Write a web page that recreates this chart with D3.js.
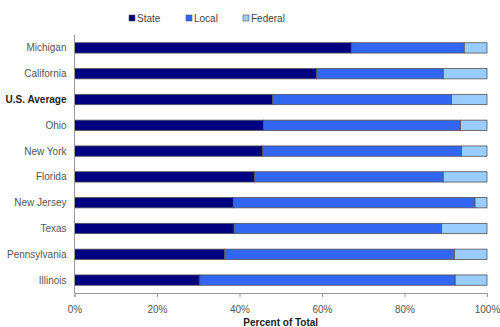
<!DOCTYPE html>
<html>
<head>
<meta charset="utf-8">
<script src="https://cdn.jsdelivr.net/npm/d3@7"></script>
<style>
  body { margin: 0; background: #fff; }
  svg { display: block; font-family: "Liberation Sans", Arial, sans-serif; }
</style>
</head>
<body>
<svg id="chart" width="500" height="327"></svg>
<script>
// categories, top to bottom
const regions = ['Michigan', 'California', 'U.S. Average', 'Ohio', 'New York',
  'Florida', 'New Jersey', 'Texas', 'Pennsylvania', 'Illinois']

// percent of total revenue by source
const stateShare = [67.2, 58.7, 48.0, 45.8, 45.6, 43.6, 38.5, 38.7, 36.4, 30.4]
const localShare = [27.3, 30.7, 43.4, 47.8, 48.2, 45.8, 58.6, 50.3, 55.7, 61.9]
const federalShare = [5.5, 10.6, 8.6, 6.4, 6.2, 10.6, 2.9, 11.0, 7.9, 7.7]

const sources = ['State', 'Local', 'Federal']
const colors = ['#000080', '#3366f0', '#99ccff']
const xTicks = [0, 20, 40, 60, 80, 100]

const svg = d3.select('#chart')
const margin = { top: 35, right: 13, bottom: 34, left: 74.5 }
const width = 500 - margin.left - margin.right
const height = 327 - margin.top - margin.bottom

const g = svg.append('g').attr('transform', `translate(${margin.left},${margin.top})`)

const x = d3.scaleLinear().domain([0, 100]).range([0, width])
const y = d3.scaleBand().domain(regions).range([0, height]).paddingInner(0.6).paddingOuter(0.3)

// stack the three sources
const rows = regions.map((r, i) => ({ region: r, State: stateShare[i], Local: localShare[i], Federal: federalShare[i] }))
const stacked = d3.stack().keys(sources)(rows)

g.selectAll('.series')
  .data(stacked)
  .join('g')
  .attr('class', 'series')
  .attr('fill', (d, i) => colors[i])
  .selectAll('rect')
  .data(d => d)
  .join('rect')
  .attr('x', d => x(d[0]))
  .attr('y', d => y(d.data.region))
  .attr('width', d => x(d[1]) - x(d[0]))
  .attr('height', y.bandwidth())
  .attr('stroke', '#555')
  .attr('stroke-width', 0.8)

// y axis line + labels
g.append('line')
  .attr('x1', 0).attr('x2', 0)
  .attr('y1', 0).attr('y2', height)
  .attr('stroke', '#999')

g.selectAll('.ylab')
  .data(regions)
  .join('text')
  .attr('class', 'ylab')
  .attr('x', -8)
  .attr('y', d => y(d) + y.bandwidth() / 2)
  .attr('dy', '0.35em')
  .attr('text-anchor', 'end')
  .attr('font-size', 10)
  .attr('font-weight', d => d === 'U.S. Average' ? 'bold' : 'normal')
  .attr('fill', d => d === 'U.S. Average' ? '#222' : '#555')
  .text(d => d)

// x axis
const xAxis = g.append('g')
  .attr('transform', `translate(0,${height})`)
  .call(d3.axisBottom(x).tickValues(xTicks).tickFormat(d => d + '%').tickSize(4).tickPadding(9))
xAxis.select('.domain').attr('stroke', '#999')
xAxis.selectAll('.tick line').attr('stroke', '#999')
xAxis.selectAll('.tick text')
  .attr('font-size', 10)
  .attr('fill', '#555')
  .attr('font-family', '"Liberation Sans", Arial, sans-serif')

g.append('text')
  .attr('x', width / 2)
  .attr('y', height + 33)
  .attr('text-anchor', 'middle')
  .attr('font-size', 10)
  .attr('font-weight', 'bold')
  .attr('fill', '#222')
  .text('Percent of Total')

// legend
const legendX = [129, 186, 243]
const legend = svg.append('g').selectAll('g')
  .data(sources)
  .join('g')
  .attr('transform', (d, i) => `translate(${legendX[i]},14)`)
legend.append('rect')
  .attr('width', 6).attr('height', 6)
  .attr('y', 1)
  .attr('fill', (d, i) => colors[i])
  .attr('stroke', '#555').attr('stroke-width', 0.6)
legend.append('text')
  .attr('x', 8).attr('y', 4).attr('dy', '0.35em')
  .attr('font-size', 10)
  .attr('fill', '#444')
  .text(d => d)
</script>
</body>
</html>
